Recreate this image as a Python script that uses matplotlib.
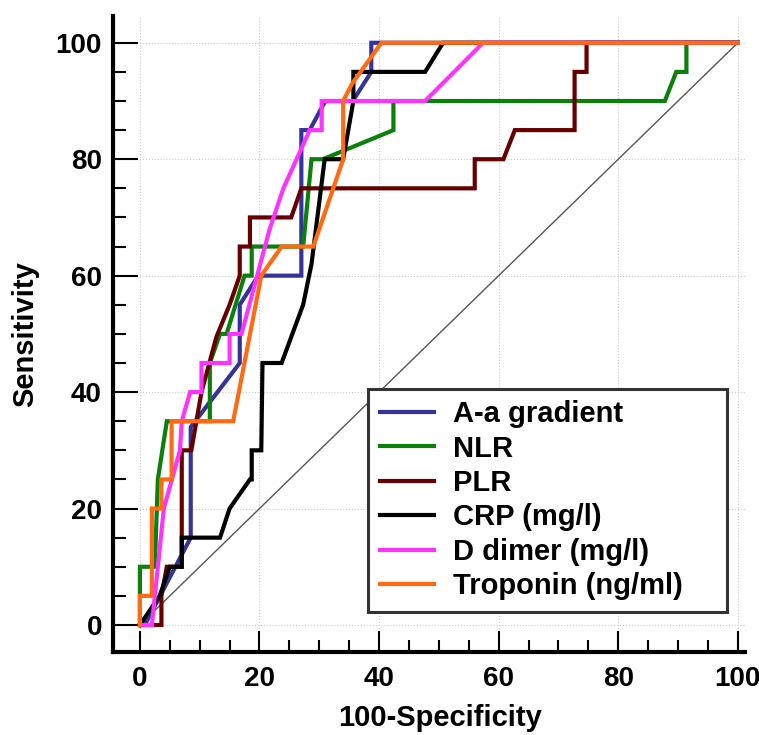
import matplotlib
matplotlib.use("Agg")
import matplotlib.pyplot as plt
from matplotlib.ticker import MultipleLocator

plt.rcParams["font.family"] = ["Liberation Sans", "DejaVu Sans"]
plt.rcParams["font.weight"] = "bold"

# ROC curves: 100-Specificity (x) vs Sensitivity (y)
aa_x = [0, 0.8, 8.5, 8.5, 16.7, 16.7, 19.8, 27, 27, 28.4, 31, 35.6, 38.7, 38.7, 100]
aa_y = [0, 0, 15, 34, 45, 55, 60, 60, 85, 85, 90, 90, 95, 100, 100]

nlr_x = [0, 0, 2.5, 3.0, 4.5, 11.7, 11.7, 13.4, 14.5, 17.5, 18.7, 18.7, 27.3, 28.7, 30.6, 42.4, 42.4,
         87.8, 89.7, 91.4, 91.4, 100]
nlr_y = [0, 10, 10, 25, 35, 35, 45, 50, 50, 60, 60, 65, 65, 80, 80, 85, 90,
         90, 95, 95, 100, 100]

plr_x = [0, 3.6, 3.6, 4.5, 7, 7, 8.6, 10.3, 12.8, 15, 16.7, 16.7, 18.4, 18.4, 25.3, 27, 56, 56,
         60.8, 62.7, 72.7, 72.7, 74.7, 74.7, 100]
plr_y = [0, 0, 5, 10, 10, 30, 30, 40, 49.5, 55, 60, 65, 65, 70, 70, 75, 75, 80,
         80, 85, 85, 95, 95, 100, 100]

crp_x = [0, 3.3, 5, 7, 7, 13.4, 15, 18.4, 18.7, 18.7, 20.3, 20.5, 23.7, 27.3, 28.7, 30.9, 34,
         35.7, 35.7, 47.7, 50.7, 100]
crp_y = [0, 5, 10, 10, 15, 15, 20, 25, 25, 30, 30, 45, 45, 55, 62, 80, 80,
         90, 95, 95, 100, 100]

ddim_x = [0, 2, 4, 6.7, 6.7, 7, 8.4, 10.3, 10.3, 15, 15, 17, 21.7, 24, 28.4, 30.4, 30.4,
          47.7, 57.4, 100]
ddim_y = [0, 0, 20, 30, 30, 35, 40, 40, 45, 45, 50, 50, 68, 75, 85, 85, 90,
          90, 100, 100]

trop_x = [0, 0, 2, 2, 3.6, 3.6, 5.3, 5.3, 15.6, 20.3, 23.7, 29, 34, 34, 35.5, 40.4, 100]
trop_y = [0, 5, 5, 20, 20, 25, 25, 35, 35, 60, 65, 65, 80, 90, 93, 100, 100]

labels = ["A-a gradient", "NLR", "PLR", "CRP (mg/l)", "D dimer (mg/l)", "Troponin (ng/ml)"]
colors = ["#333399", "#0b800b", "#660000", "#000000", "#ff33ff", "#ff6a13"]
curves = [(aa_x, aa_y), (nlr_x, nlr_y), (plr_x, plr_y), (crp_x, crp_y), (ddim_x, ddim_y), (trop_x, trop_y)]

fig = plt.figure(figsize=(7.59, 7.35), dpi=100)
ax = fig.add_axes([113 / 759, 83 / 735, 632 / 759, 636 / 735])

ax.plot([0, 100], [0, 100], color="#555555", linewidth=1.0, zorder=2)
for (x, y), lab, col in zip(curves, labels, colors):
    ax.plot(x, y, color=col, linewidth=3.0, label=lab, zorder=3, solid_joinstyle="miter")

ax.set_xlim(-4.5, 101.2)
ax.set_ylim(-4.64, 104.6)

ax.xaxis.set_major_locator(MultipleLocator(20))
ax.xaxis.set_minor_locator(MultipleLocator(5))
ax.yaxis.set_major_locator(MultipleLocator(20))
ax.yaxis.set_minor_locator(MultipleLocator(5))
ax.tick_params(which="major", direction="in", length=15, width=1.5, labelsize=20, pad=10)
ax.tick_params(which="minor", direction="in", length=8.5, width=1.5)
ax.tick_params(axis="y", which="major", length=18, pad=8)
ax.tick_params(axis="y", which="minor", length=9)

ax.set_xticks([0, 20, 40, 60, 80, 100])
ax.set_yticks([0, 20, 40, 60, 80, 100])
for t in ax.get_xticklabels() + ax.get_yticklabels():
    t.set_fontweight("bold")

ax.grid(True, which="major", linestyle=":", color="#cccccc", linewidth=0.8)
ax.set_axisbelow(True)

for side in ["top", "right"]:
    ax.spines[side].set_visible(False)
for side in ["left", "bottom"]:
    ax.spines[side].set_linewidth(3.0)

ax.set_xlabel("100-Specificity", fontsize=21, fontweight="bold")
ax.set_ylabel("Sensitivity", fontsize=21, fontweight="bold")
ax.xaxis.set_label_coords(0.517, -0.082)
ax.yaxis.set_label_coords(-0.117, 0.5)

# legend box spans the same area as in the original, text left-aligned
leg = ax.legend(loc="lower left", bbox_to_anchor=(0.4035, 0.063, 0.568, 0.3), mode="expand",
                fontsize=21, frameon=True, fancybox=False, edgecolor="#333333",
                handlelength=1.85, handletextpad=0.68, labelspacing=0.22,
                borderpad=0.4, borderaxespad=0)
leg.get_frame().set_linewidth(2.2)
leg.get_frame().set_alpha(1)
for t in leg.get_texts():
    t.set_fontweight("bold")

fig.savefig("out.png", dpi=100)
